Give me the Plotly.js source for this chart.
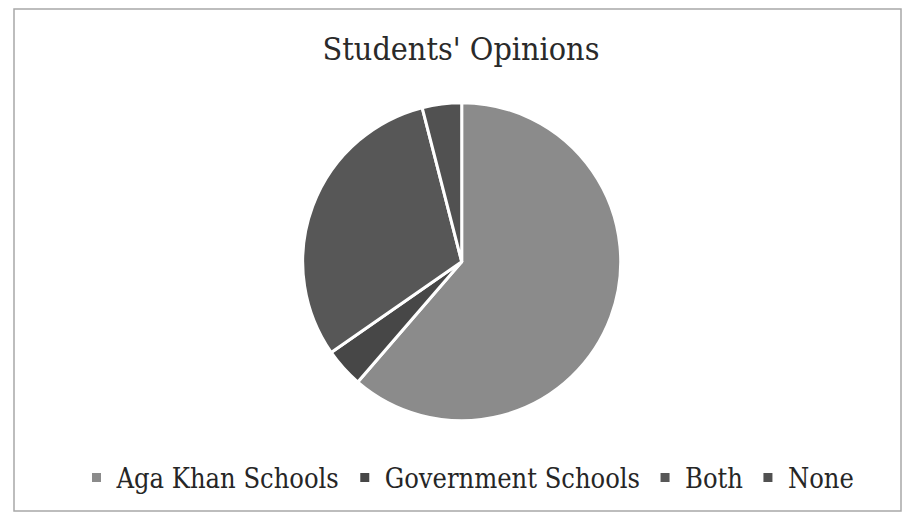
<!DOCTYPE html>
<html>
<head>
<meta charset="utf-8">
<script src="https://cdn.plot.ly/plotly-3.0.1.min.js"></script>
<style>
html,body{margin:0;padding:0;background:#ffffff;}
#chart{width:902px;height:513px;}
</style>
</head>
<body>
<div id="chart"></div>
<script>
// Data
var categories = ["Aga Khan Schools", "Government Schools", "Both", "None"];
var counts = [46, 3, 23, 3];
var sliceColors = ["#8b8b8b", "#474747", "#575757", "#515151"];
var chartTitle = "Students' Opinions";

var W = 902, H = 513;
var cx = 461.7, cy = 261.7, R = 159;
var SERIF = "DejaVu Serif Condensed, DejaVu Serif, serif";

var trace = {
  type: "pie",
  labels: categories,
  values: counts,
  sort: false,
  direction: "clockwise",
  rotation: 0,
  textinfo: "none",
  hoverinfo: "label+value+percent",
  marker: {colors: sliceColors, line: {color: "#ffffff", width: 3}},
  domain: {
    x: [(cx - R) / W, (cx + R) / W],
    y: [1 - (cy + R) / H, 1 - (cy - R) / H]
  }
};

var layout = {
  width: W, height: H,
  margin: {l: 0, r: 0, t: 0, b: 0, pad: 0},
  paper_bgcolor: "#ffffff",
  font: {family: SERIF, color: "#262626"},
  title: {
    text: chartTitle,
    font: {family: SERIF, size: 32, color: "#2a2a2a"},
    x: 461 / W, xanchor: "center", xref: "paper",
    y: 1 - 49 / H, yanchor: "middle", yref: "container"
  },
  showlegend: true,
  legend: {
    orientation: "h",
    x: 468 / W, xanchor: "center",
    y: 1 - 478 / H, yanchor: "middle",
    font: {family: SERIF, size: 27, color: "#262626"},
    itemgap: 17,
    bgcolor: "rgba(0,0,0,0)",
    traceorder: "normal"
  },
  shapes: [{
    type: "rect", xref: "paper", yref: "paper",
    x0: 14 / W, x1: 901 / W, y0: 1 - 511 / H, y1: 1 - 9 / H,
    line: {color: "#a8a8a8", width: 1.5}
  }]
};

Plotly.newPlot("chart", [trace], layout, {displayModeBar: false, staticPlot: true});
</script>
</body>
</html>
